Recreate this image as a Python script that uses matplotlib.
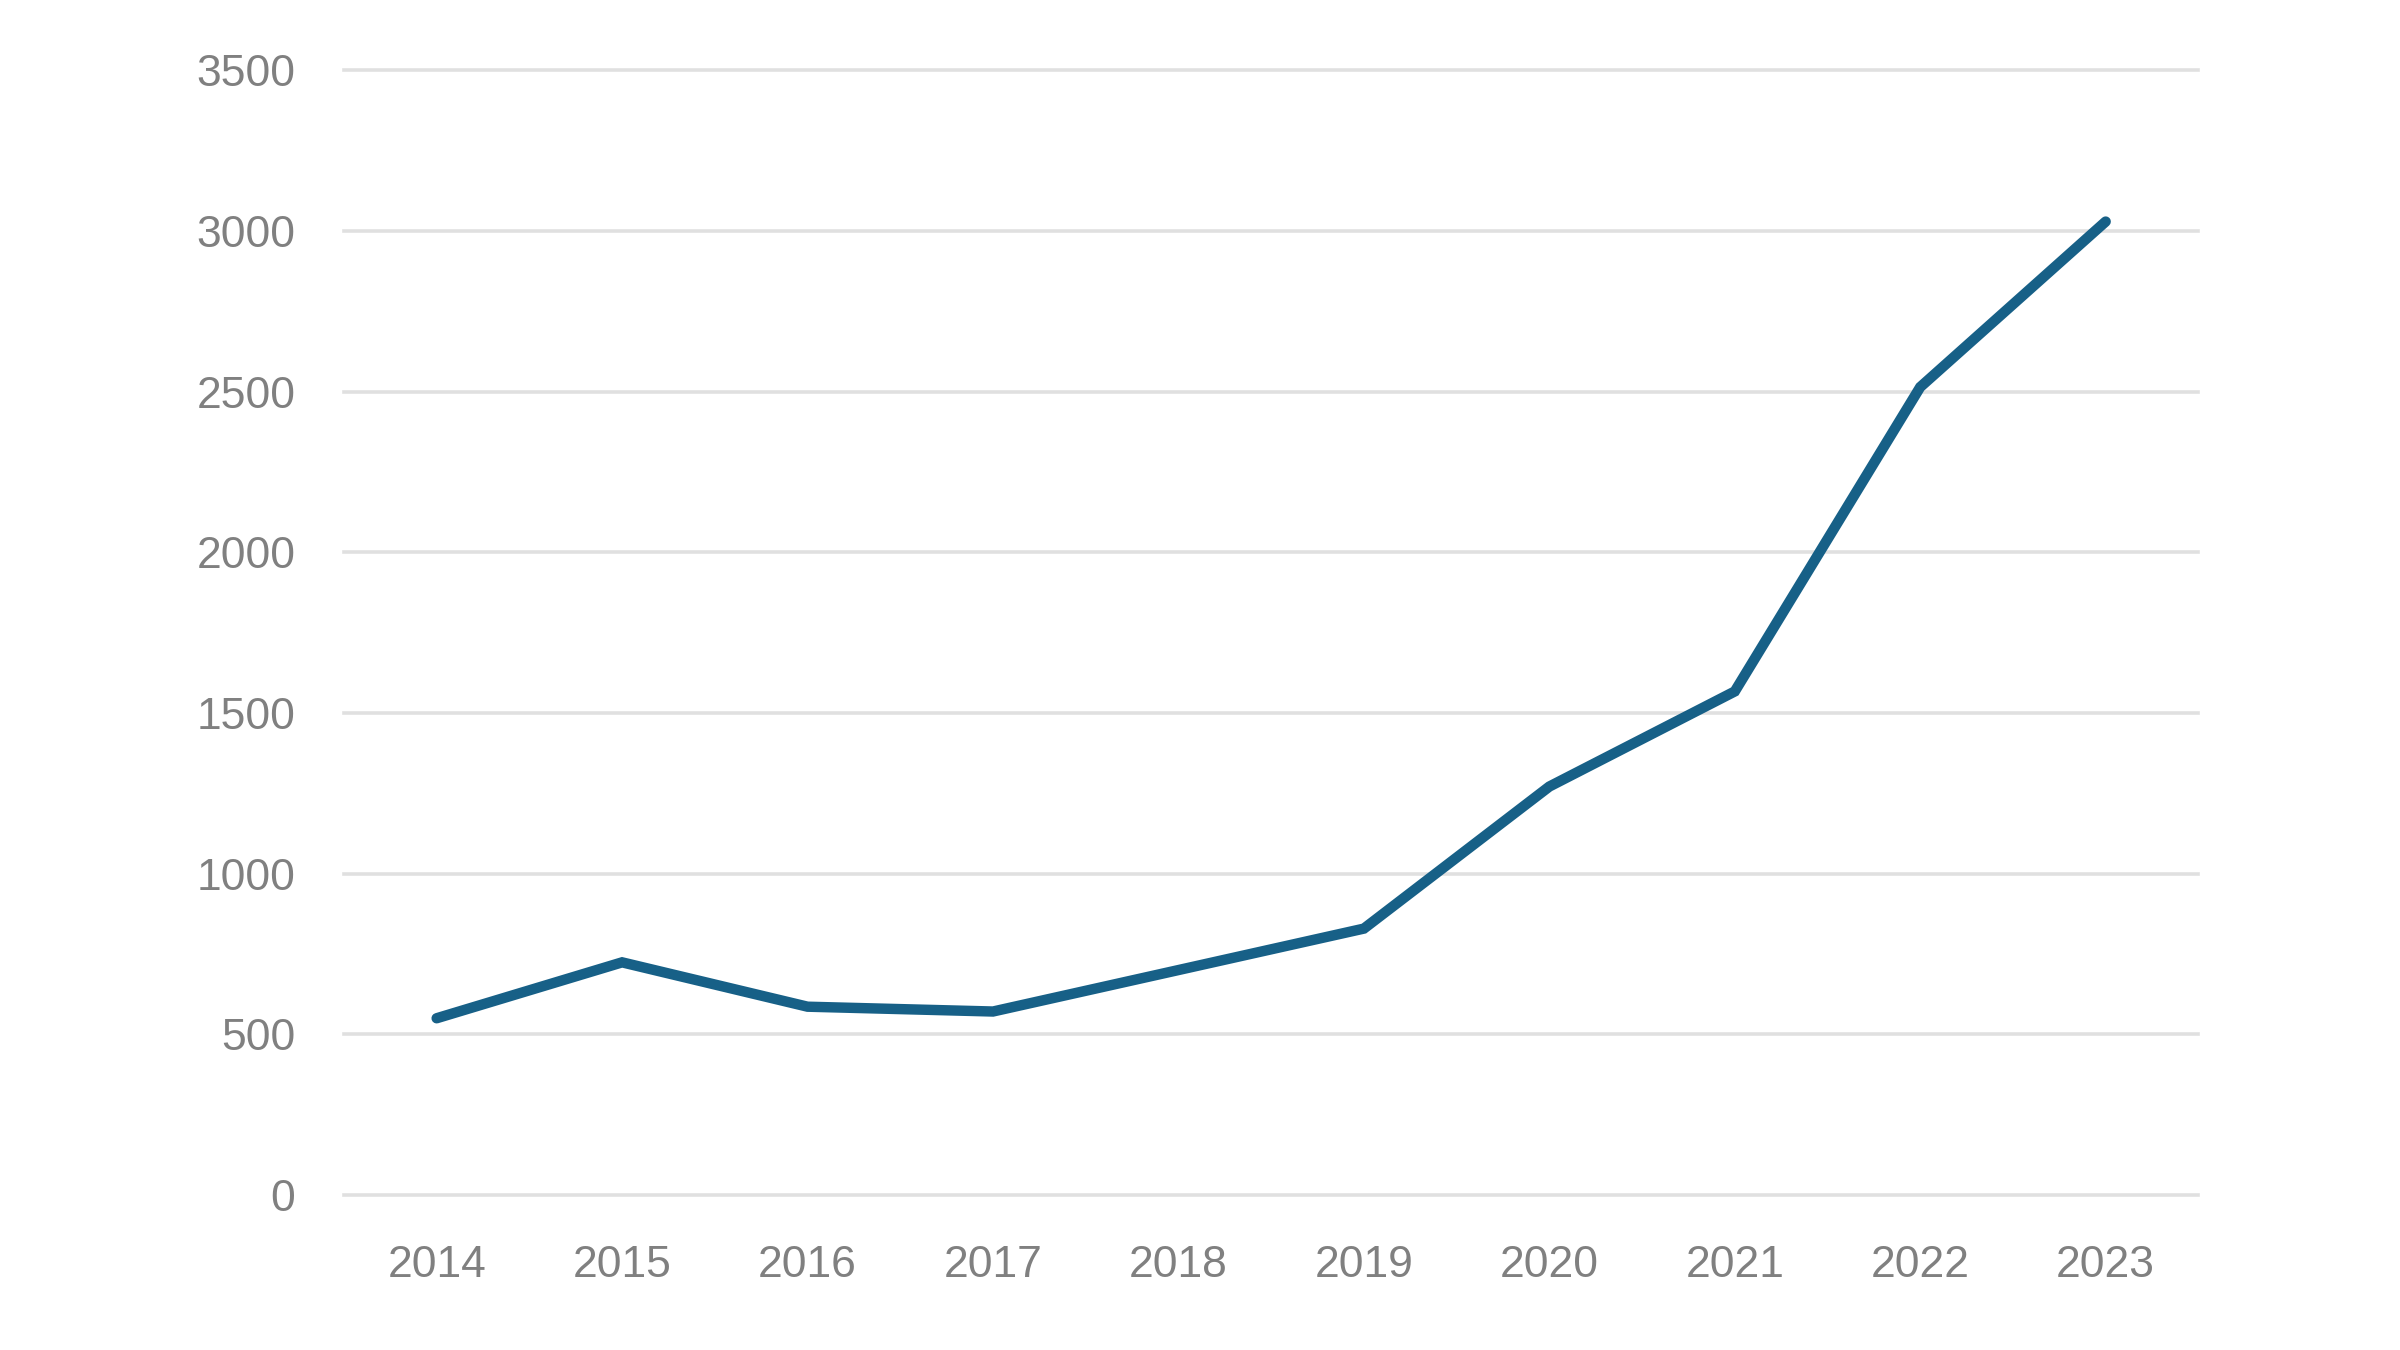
import matplotlib.pyplot as plt

years = [2014, 2015, 2016, 2017, 2018, 2019, 2020, 2021, 2022, 2023]
values = [550, 724, 586, 571, 700, 829, 1271, 1567, 2514, 3029]
yticks = [0, 500, 1000, 1500, 2000, 2500, 3000, 3500]

plt.rcParams['font.family'] = ['Liberation Sans', 'DejaVu Sans']

fig = plt.figure(figsize=(24, 13.5), dpi=100)
ax = fig.add_axes([0.1433, 0.1148, 0.7727, 0.8332])

ax.plot(years, values, color='#176087', linewidth=7.5,
        solid_capstyle='round', solid_joinstyle='miter', zorder=3)

ax.set_xlim(2013.5, 2023.5)
ax.set_ylim(0, 3500)
ax.set_xticks(years)
ax.set_yticks(yticks)
ax.grid(axis='y', color='#e0e0e0', linewidth=2.6)
for gl in ax.get_ygridlines():
    gl.set_clip_on(False)
ax.set_axisbelow(True)
for s in ax.spines.values():
    s.set_visible(False)
ax.tick_params(length=0, labelsize=32, labelcolor='#808080')
ax.tick_params(axis='y', pad=35)
ax.tick_params(axis='x', pad=36)

fig.savefig('out.png', dpi=100)
